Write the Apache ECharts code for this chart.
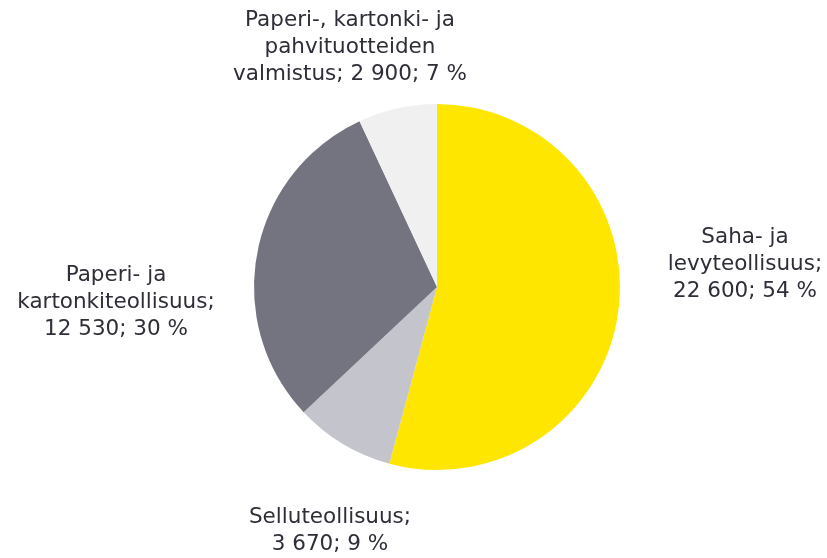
<!DOCTYPE html>
<html>
<head>
<meta charset="utf-8">
<script src="https://cdn.jsdelivr.net/npm/echarts@6/dist/echarts.min.js"></script>
<style>
  html, body { margin: 0; padding: 0; background: #fff; }
  #chart { width: 827px; height: 558px; }
</style>
</head>
<body>
<div id="chart"></div>
<script>
const names = [
  'Saha- ja\nlevyteollisuus;',
  'Selluteollisuus;',
  'Paperi- ja\nkartonkiteollisuus;',
  'Paperi-, kartonki- ja\npahvituotteiden\nvalmistus;'
]
const values = [22600, 3670, 12530, 2900]
const colors = ['#ffe600', '#c4c4cd', '#747480', '#f0f0f0']
// label block centres (x, y)
const labelPos = [[745, 264], [330, 531], [116, 302], [350, 47]]

const total = values.reduce((a, b) => a + b, 0)
const fmt = v => String(v).replace(/\B(?=(\d{3})+(?!\d))/g, ' ')

const chart = echarts.init(document.getElementById('chart'))
chart.setOption({
  animation: false,
  series: [{
    type: 'pie',
    center: [437, 287],
    radius: 183,
    startAngle: 90,
    clockwise: true,
    label: {
      show: true,
      position: 'outside',
      overflow: 'none',
      color: '#2e2e38',
      fontFamily: 'DejaVu Sans',
      fontSize: 21.5,
      lineHeight: 27,
      align: 'center',
      formatter: p => {
        const pct = Math.round(values[p.dataIndex] / total * 100)
        const sep = p.dataIndex === 3 ? ' ' : '\n'
        return p.name + sep + fmt(p.value) + '; ' + pct + ' %'
      }
    },
    labelLine: { show: false },
    labelLayout: p => ({
      x: labelPos[p.dataIndex][0],
      y: labelPos[p.dataIndex][1],
      align: 'center',
      verticalAlign: 'middle'
    }),
    itemStyle: { borderWidth: 0 },
    data: names.map((n, i) => ({ name: n, value: values[i], itemStyle: { color: colors[i] } }))
  }]
})
</script>
</body>
</html>
